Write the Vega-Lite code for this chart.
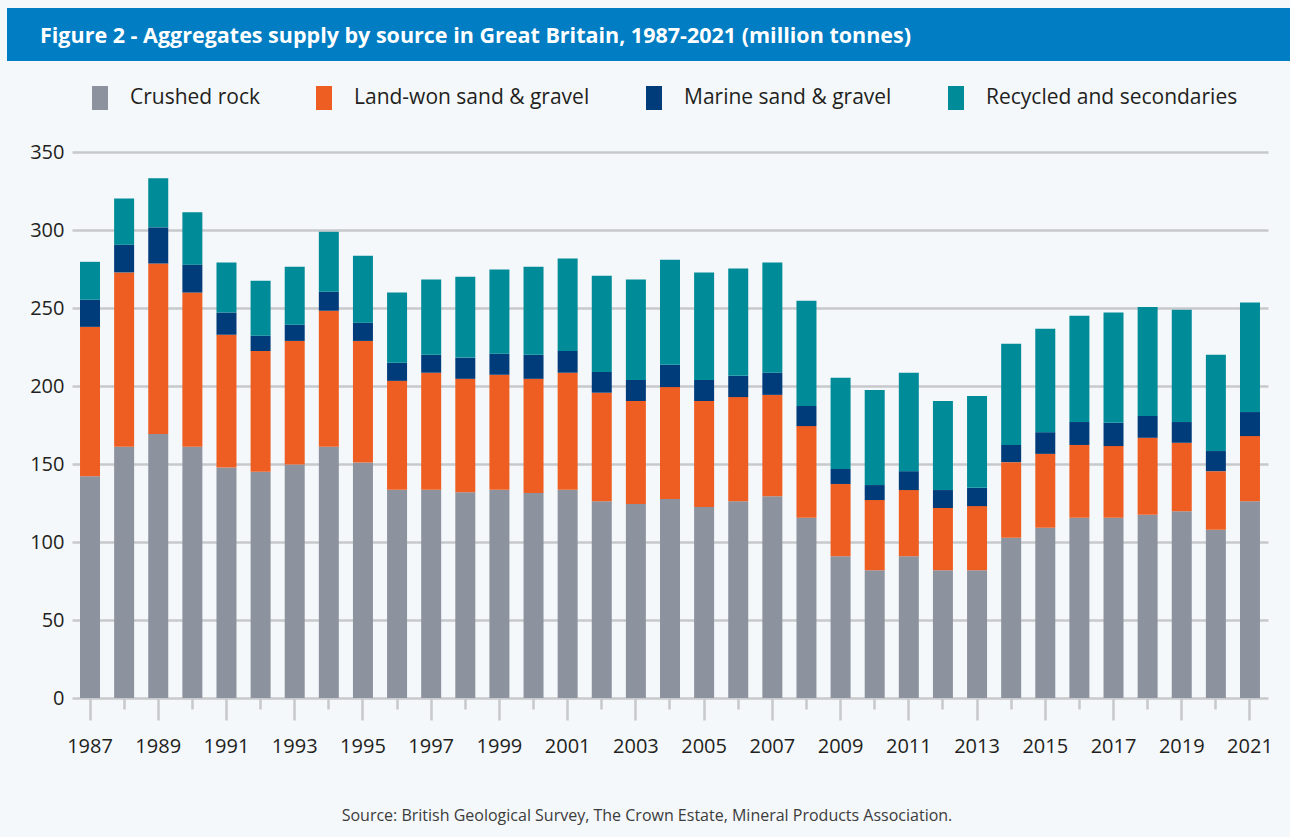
{
  "$schema": "https://vega.github.io/schema/vega-lite/v6.json",
  "background": "#F4F8FB",
  "padding": {"left": 7, "top": 8, "right": 0, "bottom": 14},
  "config": {
    "view": {"stroke": null},
    "font": "Open Sans"
  },
  "spacing": 91,
  "bounds": "flush",
  "center": true,
  "title": {
    "text": "Source: British Geological Survey, The Crown Estate, Mineral Products Association.",
    "orient": "bottom",
    "anchor": "middle",
    "frame": "bounds",
    "font": "Open Sans",
    "fontSize": 16,
    "fontWeight": "normal",
    "color": "#3C3C3C",
    "offset": 52,
    "dx": -23
  },
  "datasets": {
    "supply": [
      {"year": 1987, "Crushed rock": 142.2, "Land-won sand & gravel": 95.7, "Marine sand & gravel": 17.4, "Recycled and secondaries": 24.3},
      {"year": 1988, "Crushed rock": 161.0, "Land-won sand & gravel": 111.8, "Marine sand & gravel": 17.8, "Recycled and secondaries": 29.6},
      {"year": 1989, "Crushed rock": 169.3, "Land-won sand & gravel": 109.2, "Marine sand & gravel": 23.2, "Recycled and secondaries": 31.4},
      {"year": 1990, "Crushed rock": 161.0, "Land-won sand & gravel": 98.9, "Marine sand & gravel": 17.9, "Recycled and secondaries": 33.5},
      {"year": 1991, "Crushed rock": 147.7, "Land-won sand & gravel": 85.1, "Marine sand & gravel": 14.3, "Recycled and secondaries": 32.1},
      {"year": 1992, "Crushed rock": 145.0, "Land-won sand & gravel": 77.5, "Marine sand & gravel": 9.7, "Recycled and secondaries": 35.3},
      {"year": 1993, "Crushed rock": 149.6, "Land-won sand & gravel": 79.3, "Marine sand & gravel": 10.4, "Recycled and secondaries": 37.1},
      {"year": 1994, "Crushed rock": 161.0, "Land-won sand & gravel": 87.2, "Marine sand & gravel": 12.2, "Recycled and secondaries": 38.5},
      {"year": 1995, "Crushed rock": 150.9, "Land-won sand & gravel": 78.0, "Marine sand & gravel": 11.7, "Recycled and secondaries": 42.9},
      {"year": 1996, "Crushed rock": 133.5, "Land-won sand & gravel": 69.8, "Marine sand & gravel": 11.6, "Recycled and secondaries": 45.0},
      {"year": 1997, "Crushed rock": 133.5, "Land-won sand & gravel": 75.0, "Marine sand & gravel": 11.5, "Recycled and secondaries": 48.2},
      {"year": 1998, "Crushed rock": 131.9, "Land-won sand & gravel": 72.7, "Marine sand & gravel": 13.6, "Recycled and secondaries": 51.8},
      {"year": 1999, "Crushed rock": 133.5, "Land-won sand & gravel": 73.7, "Marine sand & gravel": 13.5, "Recycled and secondaries": 53.9},
      {"year": 2000, "Crushed rock": 131.4, "Land-won sand & gravel": 73.2, "Marine sand & gravel": 15.4, "Recycled and secondaries": 56.4},
      {"year": 2001, "Crushed rock": 133.5, "Land-won sand & gravel": 75.0, "Marine sand & gravel": 14.0, "Recycled and secondaries": 59.2},
      {"year": 2002, "Crushed rock": 126.2, "Land-won sand & gravel": 69.5, "Marine sand & gravel": 13.3, "Recycled and secondaries": 61.7},
      {"year": 2003, "Crushed rock": 124.3, "Land-won sand & gravel": 66.1, "Marine sand & gravel": 13.5, "Recycled and secondaries": 64.3},
      {"year": 2004, "Crushed rock": 127.5, "Land-won sand & gravel": 71.8, "Marine sand & gravel": 14.3, "Recycled and secondaries": 67.4},
      {"year": 2005, "Crushed rock": 122.5, "Land-won sand & gravel": 67.9, "Marine sand & gravel": 13.5, "Recycled and secondaries": 68.9},
      {"year": 2006, "Crushed rock": 126.2, "Land-won sand & gravel": 66.7, "Marine sand & gravel": 13.6, "Recycled and secondaries": 68.8},
      {"year": 2007, "Crushed rock": 129.4, "Land-won sand & gravel": 64.9, "Marine sand & gravel": 14.2, "Recycled and secondaries": 70.7},
      {"year": 2008, "Crushed rock": 115.6, "Land-won sand & gravel": 58.7, "Marine sand & gravel": 12.9, "Recycled and secondaries": 67.4},
      {"year": 2009, "Crushed rock": 90.8, "Land-won sand & gravel": 46.4, "Marine sand & gravel": 9.6, "Recycled and secondaries": 58.5},
      {"year": 2010, "Crushed rock": 81.9, "Land-won sand & gravel": 45.0, "Marine sand & gravel": 9.6, "Recycled and secondaries": 61.0},
      {"year": 2011, "Crushed rock": 90.8, "Land-won sand & gravel": 42.5, "Marine sand & gravel": 12.1, "Recycled and secondaries": 63.1},
      {"year": 2012, "Crushed rock": 81.9, "Land-won sand & gravel": 39.9, "Marine sand & gravel": 11.5, "Recycled and secondaries": 57.1},
      {"year": 2013, "Crushed rock": 81.9, "Land-won sand & gravel": 41.1, "Marine sand & gravel": 11.7, "Recycled and secondaries": 58.9},
      {"year": 2014, "Crushed rock": 102.8, "Land-won sand & gravel": 48.4, "Marine sand & gravel": 11.0, "Recycled and secondaries": 64.9},
      {"year": 2015, "Crushed rock": 109.2, "Land-won sand & gravel": 47.3, "Marine sand & gravel": 13.9, "Recycled and secondaries": 66.3},
      {"year": 2016, "Crushed rock": 115.6, "Land-won sand & gravel": 46.6, "Marine sand & gravel": 14.7, "Recycled and secondaries": 68.1},
      {"year": 2017, "Crushed rock": 115.6, "Land-won sand & gravel": 45.9, "Marine sand & gravel": 14.9, "Recycled and secondaries": 70.7},
      {"year": 2018, "Crushed rock": 117.5, "Land-won sand & gravel": 49.3, "Marine sand & gravel": 14.0, "Recycled and secondaries": 69.9},
      {"year": 2019, "Crushed rock": 119.7, "Land-won sand & gravel": 43.9, "Marine sand & gravel": 13.3, "Recycled and secondaries": 72.0},
      {"year": 2020, "Crushed rock": 107.8, "Land-won sand & gravel": 37.6, "Marine sand & gravel": 12.9, "Recycled and secondaries": 61.7},
      {"year": 2021, "Crushed rock": 126.2, "Land-won sand & gravel": 41.7, "Marine sand & gravel": 15.4, "Recycled and secondaries": 70.2}
    ]
  },
  "vconcat": [
    {
      "width": 1326,
      "height": 53,
      "data": {"values": [{"band": "header"}]},
      "mark": {"type": "rect", "color": "#007DC3"},
      "title": {
        "text": "Figure 2 - Aggregates supply by source in Great Britain, 1987-2021 (million tonnes)",
        "orient": "top",
        "anchor": "start",
        "frame": "group",
        "font": "Open Sans",
        "fontSize": 21.5,
        "fontWeight": "bold",
        "color": "#FFFFFF",
        "baseline": "alphabetic",
        "offset": -56,
        "dx": 33
      }
    },
    {
      "width": 1196,
      "height": 546,
      "data": {"name": "supply"},
      "transform": [
        {"fold": ["Crushed rock", "Land-won sand & gravel", "Marine sand & gravel", "Recycled and secondaries"], "as": ["source", "value"]}
      ],
      "mark": {"type": "bar"},
      "encoding": {
        "x": {
          "field": "year",
          "type": "ordinal",
          "scale": {"paddingInner": 0.414, "paddingOuter": 0.235},
          "axis": {
            "title": null,
            "domain": false,
            "labelAngle": 0,
            "labelFont": "Open Sans",
            "labelFontSize": 20,
            "labelColor": "#231F20",
            "labelPadding": 16,
            "labelExpr": "datum.value % 2 == 1 ? datum.label : ''",
            "tickColor": "#C8C9CB",
            "tickWidth": 2.5,
            "tickSize": {"condition": {"test": "datum.value % 2 == 1", "value": 22}, "value": 11}
          }
        },
        "y": {
          "field": "value",
          "type": "quantitative",
          "stack": "zero",
          "scale": {"domain": [0, 350], "nice": false},
          "axis": {
            "title": null,
            "domain": false,
            "ticks": false,
            "values": [0, 50, 100, 150, 200, 250, 300, 350],
            "labelFont": "Open Sans",
            "labelFontSize": 20,
            "labelColor": "#231F20",
            "labelPadding": 8,
            "gridColor": "#C8C9CB",
            "gridWidth": 2.5
          }
        },
        "order": {"field": "source", "sort": "ascending"},
        "color": {
          "field": "source",
          "type": "nominal",
          "scale": {
            "domain": ["Crushed rock", "Land-won sand & gravel", "Marine sand & gravel", "Recycled and secondaries"],
            "range": ["#8D939E", "#EE5E22", "#003B7A", "#008B98"]
          },
          "legend": {
            "title": null,
            "orient": "none",
            "direction": "horizontal",
            "columns": 4,
            "legendX": 81,
            "legendY": 78,
            "padding": 0,
            "symbolType": "M-0.667,-1H0.667V1H-0.667Z",
            "symbolSize": 576,
            "symbolStrokeWidth": 0,
            "symbolOpacity": 1,
            "labelFont": "Open Sans",
            "labelFontSize": 21,
            "labelColor": "#231F20",
            "labelOffset": 18,
            "columnPadding": 52,
            "labelLimit": 400
          }
        }
      }
    }
  ]
}
